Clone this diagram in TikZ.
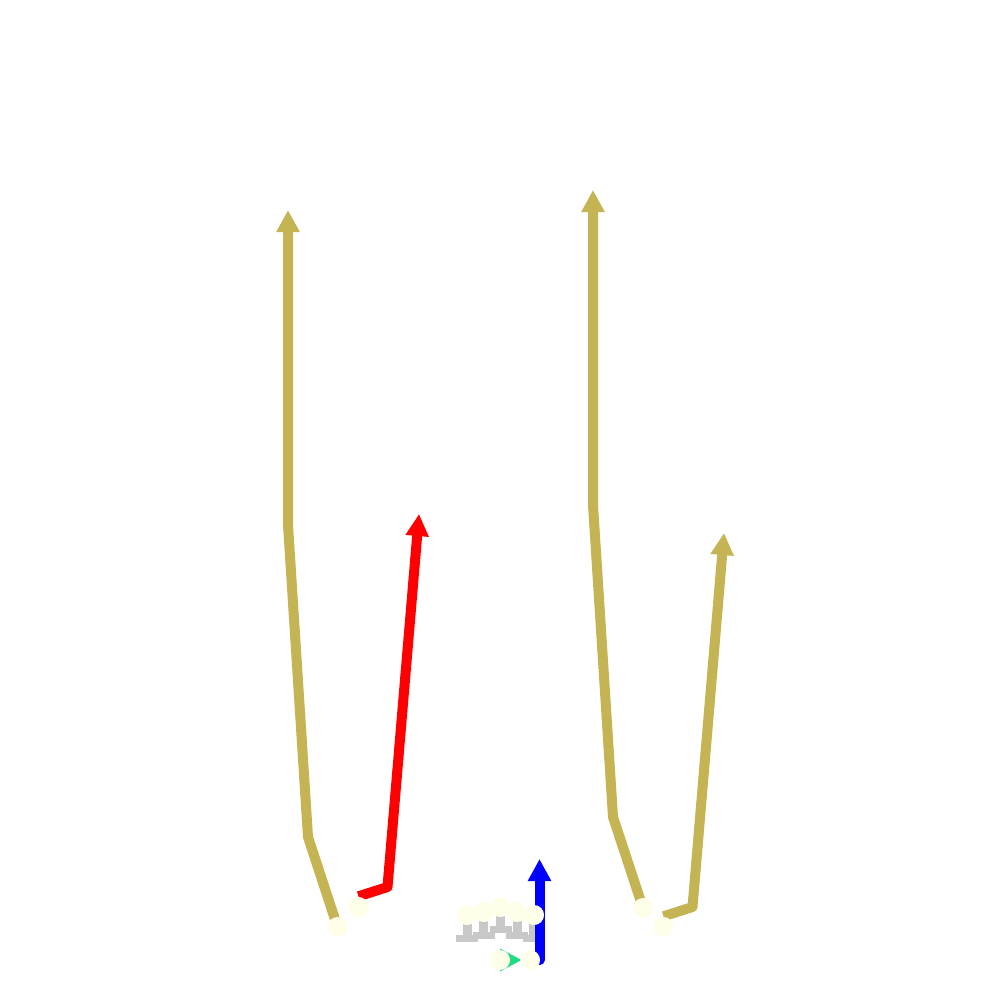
\documentclass[tikz,border=0pt]{standalone}
\usetikzlibrary{arrows.meta,backgrounds}
\definecolor{gold}{HTML}{C4B454}
\definecolor{dotc}{HTML}{FFFFE9}
\definecolor{graybar}{HTML}{C8C8C8}
\definecolor{mint}{HTML}{1EDC82}
\tikzset{
  x=0.01cm,y=-0.01cm,
  dot/.style={circle,fill=dotc,draw=none,minimum size=0.2cm,inner sep=0pt},
  wire/.style={line width=0.1cm,line join=round,-{Triangle[length=0.22cm,width=0.22cm]}},
  bar/.style={fill=graybar,draw=none},
}
\begin{document}
\begin{tikzpicture}
\useasboundingbox (0,0) rectangle (1000,1000);
\node[dot] (a) at (337.5,927) {};
\node[dot] (b) at (358.5,907) {};
\node[dot] (c) at (643,908) {};
\node[dot] (d) at (663.5,927) {};
\node[dot] (e1) at (467,915) {};
\node[dot] (e2) at (484,912) {};
\node[dot] (e3) at (500.5,907) {};
\node[dot] (e4) at (517,912) {};
\node[dot] (e5) at (534,915) {};
\node[dot] (f) at (500,960) {};
\node[dot] (g) at (530,960) {};
\coordinate (aa1) at (308,837);
\coordinate (aa2) at (288,525);
\coordinate (aa3) at (288,210);
\coordinate (bb1) at (387.5,887);
\coordinate (bb2) at (419,514);
\coordinate (cc1) at (613,817);
\coordinate (cc2) at (593,505);
\coordinate (cc3) at (593,190);
\coordinate (dd1) at (692.5,907);
\coordinate (dd2) at (724,533);
\coordinate (gg1) at (539.5,960);
\coordinate (gg2) at (539.5,859);
\coordinate (m1) at (500,948.5);
\coordinate (m2) at (521.5,960);
\coordinate (m3) at (500,971.5);
\begin{scope}[on background layer]
  % grey stepped T shapes
  \fill[bar] (456,935) rectangle (478,942);
  \fill[bar] (463,924) rectangle (472,935);
  \fill[bar] (473,932) rectangle (495,939);
  \fill[bar] (479,921) rectangle (488,932);
  \fill[bar] (490,926) rectangle (512,933);
  \fill[bar] (496,915) rectangle (505,926);
  \fill[bar] (506,932) rectangle (528,939);
  \fill[bar] (513,921) rectangle (522,932);
  \fill[bar] (523,935) rectangle (545,942);
  \fill[bar] (529,924) rectangle (538,935);
  % connectors
  \draw[wire,gold] (a.center) -- (aa1) -- (aa2) -- (aa3);
  \draw[wire,red] (b.north) -- (bb1) -- (bb2);
  \draw[wire,gold] (c.center) -- (cc1) -- (cc2) -- (cc3);
  \draw[wire,gold] (d.north) -- (dd1) -- (dd2);
  \draw[wire,blue] (g.center) -- (gg1) -- (gg2);
  \fill[mint] (m1) -- (m2) -- (m3) -- cycle;
\end{scope}
\end{tikzpicture}
\end{document}
